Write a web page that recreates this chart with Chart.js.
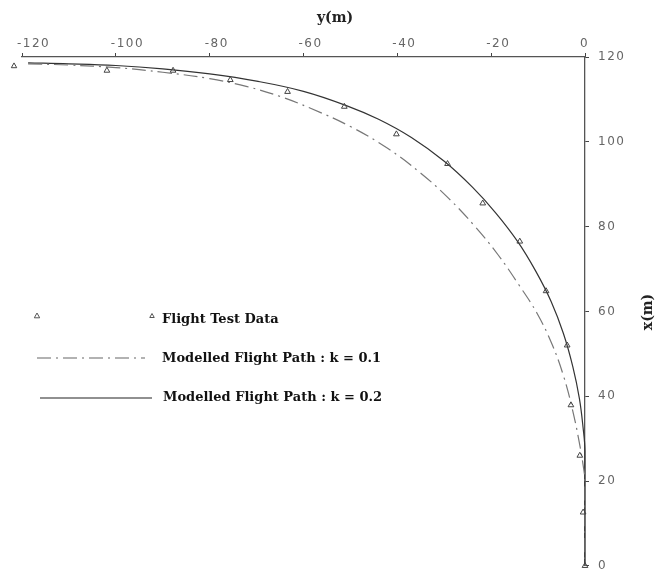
<!DOCTYPE html>
<html>
<head>
<meta charset="utf-8">
<title>Flight path</title>
<script src="https://cdn.jsdelivr.net/npm/chart.js@4.4.1/dist/chart.umd.min.js"></script>
<style>
  html, body { margin: 0; padding: 0; background: #fff; }
</style>
</head>
<body>
<canvas id="pathChart" width="657" height="582"></canvas>
<script>
// flight test points (y = lateral, x = downrange), metres
const testY = [-121.7, -101.9, -87.8, -75.6, -63.4, -51.3, -40.2, -29.3, -21.8, -13.9, -8.3, -3.8, -3.0, -1.1, -0.4, 0];
const testX = [117.9, 116.8, 116.8, 114.6, 111.8, 108.3, 101.8, 94.8, 85.5, 76.5, 64.8, 52.0, 37.9, 26.0, 12.6, 0];

// modelled path, k = 0.1
const k1Y = [-118.7, -110, -100, -90, -80, -72, -65, -58.5, -50, -42, -35, -29, -23.5, -18.5, -14, -10.2, -7.0, -4.5, -2.6, -1.2, -0.3, 0, 0];
const k1X = [118.4, 118.1, 117.5, 116.4, 114.9, 113.0, 110.7, 107.9, 103.6, 98.4, 92.6, 86.6, 80.1, 73.3, 66.1, 59.5, 52.2, 44.5, 36.5, 29.0, 23.0, 20, 0];

// modelled path, k = 0.2
const k2Y = [-118.7, -110, -100, -90, -80, -70, -60, -51, -44, -37, -30, -24, -19, -14.3, -10.5, -7.2, -4.6, -2.6, -1.2, -0.4, 0, 0];
const k2X = [118.6, 118.4, 118.0, 117.2, 116.0, 114.3, 111.9, 108.6, 105.3, 101.0, 95.4, 89.3, 83.2, 76.4, 69.5, 62.3, 54.8, 47.0, 39.5, 32.5, 27, 0];

const yTicks = [-120, -100, -80, -60, -40, -20, 0];
const xTicks = [0, 20, 40, 60, 80, 100, 120];

const labels = ['Flight Test Data', 'Modelled Flight Path : k = 0.1', 'Modelled Flight Path : k = 0.2'];

const pts = (a, b) => a.map((v, i) => ({ x: v, y: b[i] }));

function tri(c, x, y, r) {
  c.beginPath();
  c.moveTo(x, y - r);
  c.lineTo(x + r * 0.9, y + r * 0.6);
  c.lineTo(x - r * 0.9, y + r * 0.6);
  c.closePath();
  c.stroke();
}

// titles, legend, and test points that sit just past the axis end
const extras = {
  id: 'extras',
  beforeDraw(chart) {
    chart.ctx.letterSpacing = '1.5px';
  },
  afterDatasetsDraw(chart) {
    const c = chart.ctx;
    const area = chart.chartArea;
    c.save();
    c.strokeStyle = '#444';
    c.lineWidth = 1;
    chart.getDatasetMeta(0).data.forEach(p => {
      if (p.x < area.left) tri(c, p.x, p.y, 3);
    });
    c.restore();
  },
  afterDraw(chart) {
    const c = chart.ctx;
    c.letterSpacing = '0px';
    c.save();
    c.fillStyle = '#222';
    c.font = 'bold 14px "DejaVu Serif"';
    c.textAlign = 'center';
    c.textBaseline = 'middle';
    c.fillText('y(m)', 335, 18);
    c.translate(648, 312);
    c.rotate(-Math.PI / 2);
    c.fillText('x(m)', 0, 0);
    c.restore();

    c.save();
    c.strokeStyle = '#555';
    c.lineWidth = 1;
    tri(c, 37, 316, 3);
    tri(c, 152, 316, 2.5);
    c.fillStyle = '#111';
    c.font = 'bold 13px "DejaVu Serif"';
    c.textAlign = 'left';
    c.textBaseline = 'middle';
    c.fillText(labels[0], 162, 320);

    c.strokeStyle = '#666';
    c.lineWidth = 1.2;
    c.setLineDash([14, 5, 2, 5]);
    c.beginPath(); c.moveTo(37, 358); c.lineTo(145, 358); c.stroke();
    c.setLineDash([]);
    c.fillText(labels[1], 162, 359);

    c.strokeStyle = '#222';
    c.beginPath(); c.moveTo(40, 398); c.lineTo(152, 398); c.stroke();
    c.fillText(labels[2], 163, 398);
    c.restore();
  }
};

const ctx = document.getElementById('pathChart').getContext('2d');
const pathChart = new Chart(ctx, {
  type: 'scatter',
  data: {
    datasets: [{
      label: labels[0],
      data: pts(testY, testX),
      pointStyle: 'triangle',
      pointRadius: 3.3,
      pointBorderColor: '#444',
      pointBackgroundColor: 'rgba(255,255,255,0)',
      pointBorderWidth: 1,
      showLine: false,
      clip: false
    }, {
      label: labels[1],
      data: pts(k1Y, k1X),
      showLine: true,
      pointRadius: 0,
      borderColor: '#777',
      borderWidth: 1.2,
      borderDash: [14, 5, 2, 5],
      tension: 0.4,
      clip: false
    }, {
      label: labels[2],
      data: pts(k2Y, k2X),
      showLine: true,
      pointRadius: 0,
      borderColor: '#333',
      borderWidth: 1.2,
      tension: 0.4,
      clip: false
    }]
  },
  options: {
    responsive: false,
    animation: false,
    layout: { padding: { left: 22, right: 0, top: 0, bottom: 5 } },
    plugins: { legend: { display: false }, tooltip: { enabled: false } },
    scales: {
      x: {
        type: 'linear',
        position: 'top',
        min: -120,
        max: 0,
        afterBuildTicks: s => { s.ticks = yTicks.map(v => ({ value: v })); },
        afterFit: s => { s.height = 57; },
        ticks: { color: '#666', font: { family: 'DejaVu Sans', size: 12 }, padding: 2, maxRotation: 0, align: 'start', labelOffset: -5 },
        grid: { drawOnChartArea: false, tickLength: 4, color: '#444' },
        border: { color: '#555', width: 1.3 }
      },
      y: {
        type: 'linear',
        position: 'right',
        min: 0,
        max: 120,
        afterBuildTicks: s => { s.ticks = xTicks.map(v => ({ value: v })); },
        afterFit: s => { s.width = 72; },
        ticks: { color: '#666', font: { family: 'DejaVu Sans', size: 12 }, padding: 9 },
        grid: { drawOnChartArea: false, tickLength: 4, color: '#444' },
        border: { color: '#555', width: 1.3 }
      }
    }
  },
  plugins: [extras]
});
</script>
</body>
</html>
